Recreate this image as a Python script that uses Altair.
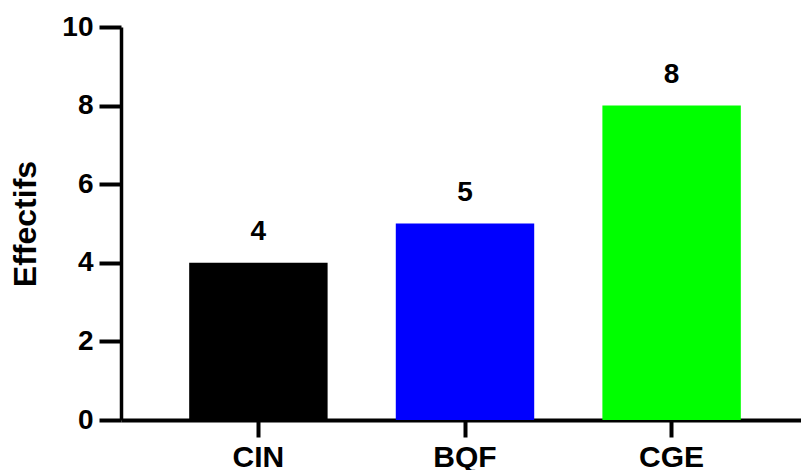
import altair as alt
import pandas as pd

categories = ["CIN", "BQF", "CGE"]
values = [4, 5, 8]
colors = ["#000000", "#0000FF", "#00FF00"]

df = pd.DataFrame({"cat": categories, "val": values, "col": colors})

FONT = "Liberation Sans"

x_enc = alt.X(
    "cat:N",
    sort=categories,
    scale=alt.Scale(paddingInner=0.33, paddingOuter=0.33, range=[0, 688]),
    axis=alt.Axis(
        title=None,
        labelAngle=0,
        labelFont=FONT,
        labelFontSize=30,
        labelFontWeight="bold",
        labelColor="black",
        labelPadding=5,
        domainColor="black",
        domainWidth=4,
        tickColor="black",
        tickWidth=4,
        tickSize=17,
    ),
)

y_enc = alt.Y(
    "val:Q",
    scale=alt.Scale(domain=[0, 10], nice=False),
    axis=alt.Axis(
        title="Effectifs",
        values=[0, 2, 4, 6, 8, 10],
        grid=False,
        labelFont=FONT,
        labelFontSize=28,
        labelFontWeight="bold",
        labelColor="black",
        labelPadding=6,
        domainColor="black",
        domainWidth=3.5,
        tickColor="black",
        tickWidth=4,
        tickSize=22,
        titleFont=FONT,
        titleFontSize=32,
        titleFontWeight="bold",
        titleColor="black",
        titleAngle=270,
        titleAlign="center",
        titleBaseline="alphabetic",
        titleX=-86,
        titleY=196.5,
    ),
)

bars = alt.Chart(df).mark_bar().encode(
    x=x_enc,
    y=y_enc,
    color=alt.Color("col:N", scale=None),
)

labels = alt.Chart(df).mark_text(
    dy=-23,
    baseline="alphabetic",
    font=FONT,
    fontSize=28,
    fontWeight="bold",
    color="black",
).encode(
    x=alt.X("cat:N", sort=categories),
    y=alt.Y("val:Q"),
    text=alt.Text("val:Q"),
)

chart = (
    alt.layer(bars, labels)
    .properties(
        width=680,
        height=393,
        autosize=alt.AutoSizeParams(type="none"),
        padding={"left": 113, "top": 19, "right": 0, "bottom": 50},
        background="white",
    )
    .configure_view(stroke=None)
)

chart.save("out.html", embed_options={"renderer": "svg", "actions": False})
